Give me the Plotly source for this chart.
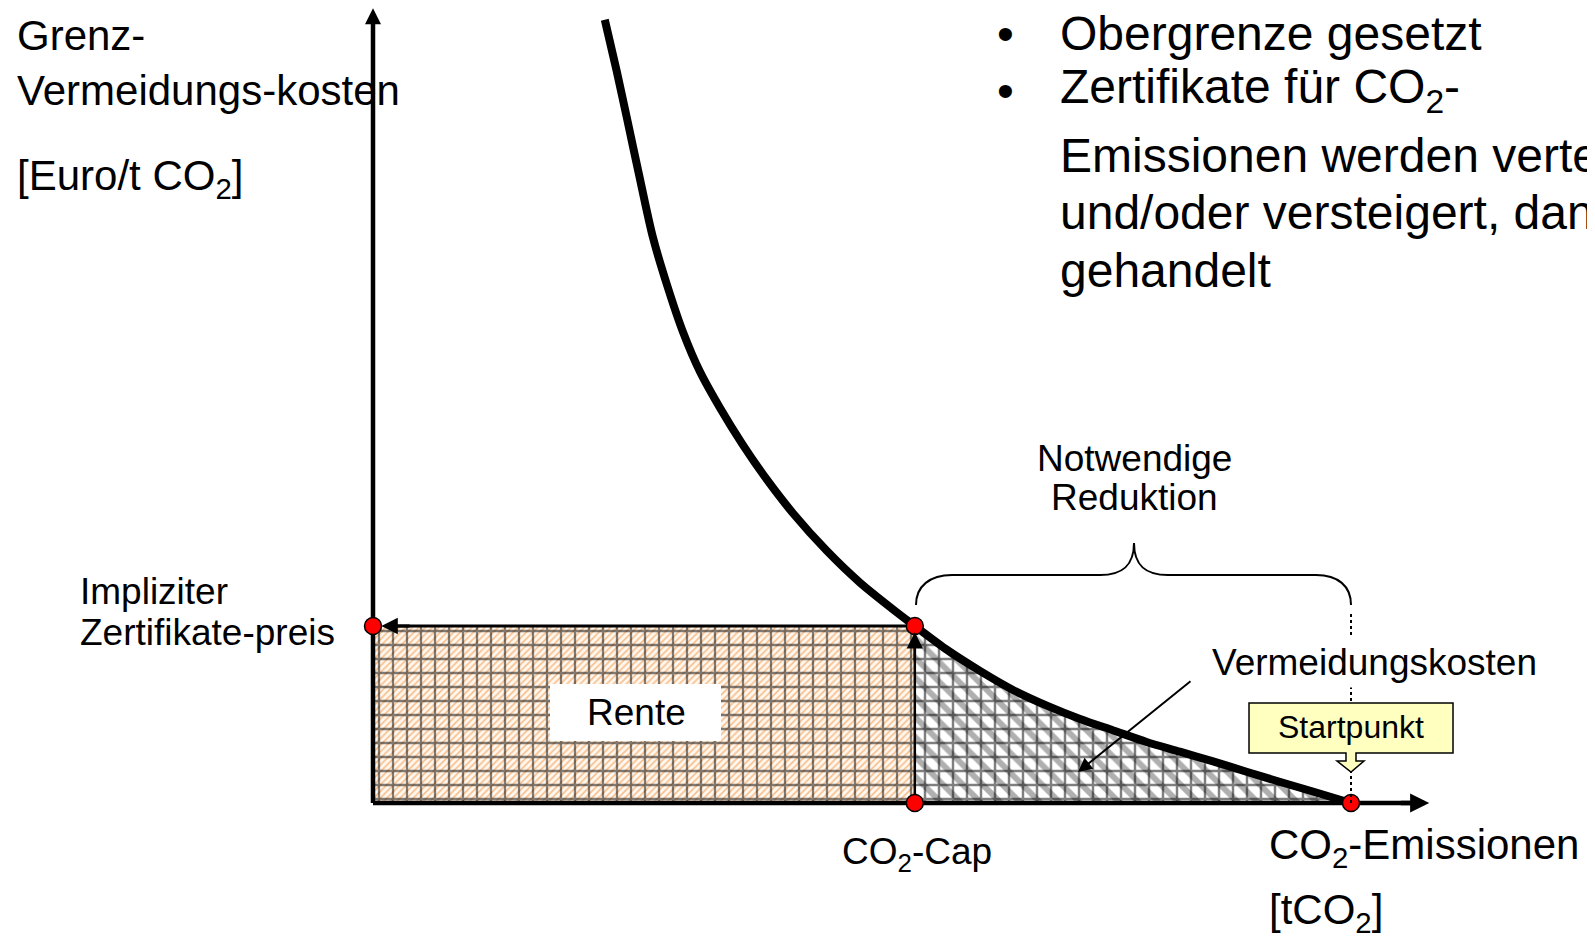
import plotly.graph_objects as go

# Grenzvermeidungskosten-Kurve (Emissionen in % des Startpunkts, Kosten in Euro/t CO2)
emissions = [23.7, 24.9, 26.0, 27.2, 28.6, 30.1, 31.7, 33.4, 35.5, 37.8, 40.3, 42.9,
             46.4, 49.8, 54.2, 55.4, 58.7, 62.1, 65.4, 68.9, 72.3, 75.7, 79.1, 82.5,
             85.9, 89.4, 92.7, 96.1, 100.0]
costs = [88.5, 82.8, 77.2, 71.0, 64.0, 58.4, 53.2, 48.8, 44.6, 40.5, 36.5, 32.8,
         28.5, 24.9, 21.0, 20.0, 17.3, 14.9, 12.8, 11.0, 9.5, 8.2, 6.9, 5.8,
         4.7, 3.5, 2.4, 1.3, 0.0]

co2_cap = 55.4
start_emissions = 100.0
certificate_price = 20.0

# axis extent (arrow tips)
x_axis_end = 108.0
y_axis_end = 89.8

# canvas and scale (page body has an 8px margin)
W, H = 1595, 936
OFF = 8
ORIGIN = (373 - OFF, 803 - OFF)
PX_X = 9.78
PX_Y = 8.85

FONT = "Liberation Sans, Arial, sans-serif"


def px(x):
    return (x - OFF) / W


def py(y):
    return 1 - (y - OFF) / H


def pt(x, y):
    return f"{px(x):.5f},{py(y):.5f}"


def line_trace(x, y, width):
    return go.Scatter(x=x, y=y, mode="lines",
                      line=dict(color="black", width=width), hoverinfo="skip")


def head(x, y, ax, ay, width, size):
    # arrowhead drawn as an annotation whose tip sits on the data point
    return dict(x=x, y=y, xref="x", yref="y", text="", showarrow=True,
                ax=ax, ay=ay, arrowhead=2, arrowsize=size, arrowwidth=width,
                arrowcolor="black", standoff=0)


fig = go.Figure()

# Rente (rectangle below the price, left of the cap)
rent_x = [0, co2_cap, co2_cap, 0, 0]
rent_y = [0, 0, certificate_price, certificate_price, 0]
fig.add_trace(go.Scatter(
    x=rent_x, y=rent_y, fill="toself", mode="lines", line=dict(width=0),
    fillcolor="white",
    fillpattern=dict(shape="/", fgcolor="#f0862a", bgcolor="#fff8f0",
                     size=4.67, solidity=0.36),
    hoverinfo="skip",
))
fig.add_trace(go.Scatter(
    x=rent_x, y=rent_y, fill="toself", mode="lines", line=dict(width=0),
    fillcolor="rgba(0,0,0,0)",
    fillpattern=dict(shape="+", fgcolor="black", bgcolor="rgba(0,0,0,0)",
                     size=14, solidity=0.3, fillmode="overlay"),
    hoverinfo="skip",
))

# Vermeidungskosten (area under the curve between cap and start)
tri_x = [e for e in emissions if e >= co2_cap] + [co2_cap]
tri_y = [c for e, c in zip(emissions, costs) if e >= co2_cap] + [0]
fig.add_trace(go.Scatter(
    x=tri_x, y=tri_y, fill="toself", mode="lines", line=dict(width=0),
    fillcolor="white",
    fillpattern=dict(shape="\\", fgcolor="#606060", bgcolor="white",
                     size=14, solidity=0.42),
    hoverinfo="skip",
))
fig.add_trace(go.Scatter(
    x=tri_x, y=tri_y, fill="toself", mode="lines", line=dict(width=0),
    fillcolor="rgba(0,0,0,0)",
    fillpattern=dict(shape="+", fgcolor="black", bgcolor="rgba(0,0,0,0)",
                     size=14, solidity=0.32, fillmode="overlay"),
    hoverinfo="skip",
))

# cost curve
fig.add_trace(go.Scatter(
    x=emissions, y=costs, mode="lines",
    line=dict(color="black", width=8, shape="spline", smoothing=0.8),
    hoverinfo="skip",
))

# axes, price and cap lines (heads added as annotations, lines stop below the tip)
fig.add_trace(line_trace([0, 0], [0, y_axis_end - 10 / PX_Y], 4.5))
fig.add_trace(line_trace([0, x_axis_end - 12 / PX_X], [0, 0], 4.5))
fig.add_trace(line_trace([co2_cap, 0.85 + 8 / PX_X], [certificate_price] * 2, 3))
fig.add_trace(line_trace([co2_cap, co2_cap], [0, 19.3 - 8 / PX_Y], 2.5))

# key points
fig.add_trace(go.Scatter(
    x=[0, co2_cap, co2_cap, start_emissions],
    y=[certificate_price, certificate_price, 0, 0],
    mode="markers",
    marker=dict(color="red", size=17, line=dict(color="black", width=1.5)),
    hoverinfo="skip",
))

shapes = [
    # brace "Notwendige Reduktion"
    dict(type="path", xref="paper", yref="paper",
         path=("M" + pt(916, 605) + " C" + pt(916, 586) + " " + pt(930, 575) + " " + pt(952, 575)
               + " L" + pt(1100, 575) + " C" + pt(1122, 575) + " " + pt(1134, 566) + " " + pt(1134, 543)
               + " C" + pt(1134, 566) + " " + pt(1146, 575) + " " + pt(1168, 575)
               + " L" + pt(1316, 575) + " C" + pt(1338, 575) + " " + pt(1351, 586) + " " + pt(1351, 605)),
         line=dict(color="black", width=2)),
    # dotted guide at the start point
    dict(type="line", xref="x", yref="y", x0=start_emissions, x1=start_emissions,
         y0=0, y1=21.6, line=dict(color="black", width=2, dash="dot"), layer="above"),
    # white box behind "Rente"
    dict(type="rect", xref="paper", yref="paper", x0=px(550), x1=px(721),
         y0=py(741), y1=py(684), fillcolor="white", line=dict(width=0), layer="above"),
    # Startpunkt callout
    dict(type="path", xref="paper", yref="paper", layer="above",
         path="M" + " L".join(pt(a, b) for a, b in [
             (1249, 703), (1453, 703), (1453, 753), (1356, 753), (1356, 761),
             (1364, 761), (1351, 772), (1337, 761), (1346, 761), (1346, 753),
             (1249, 753)]) + " Z",
         fillcolor="#ffffc0", line=dict(color="black", width=1.5)),
]


def label(text, x, y, size, anchor="left", **kw):
    return dict(text=text, x=px(x), y=py(y), xref="paper", yref="paper",
                xanchor=anchor, yanchor="middle", showarrow=False,
                font=dict(family=FONT, size=size, color="black"), **kw)


annotations = [
    label("Grenz-", 15, 35, 42),
    label("Vermeidungs-kosten", 15, 90, 42),
    label("[Euro/t CO<sub>2</sub>]", 15, 178, 42),
    label("Impliziter", 78, 591, 37),
    label("Zertifikate-preis", 78, 632, 37),
    label("Notwendige", 1134, 458, 37, "center"),
    label("Reduktion", 1134, 497, 37, "center"),
    label("Vermeidungskosten", 1207, 662, 37, bgcolor="white", borderpad=4),
    label("Rente", 636, 712, 37, "center"),
    label("Startpunkt", 1351, 727, 32, "center"),
    label("CO<sub>2</sub>-Cap", 840, 854, 37),
    label("CO<sub>2</sub>-Emissionen", 1267, 847, 42),
    label("[tCO<sub>2</sub>]", 1267, 912, 42),
    label("•", 1005, 33, 48, "center"),
    label("•", 1005, 90, 48, "center"),
    label("Obergrenze gesetzt", 1058, 33, 48),
    label("Zertifikate für CO<sub>2</sub>-", 1058, 90, 48),
    label("Emissionen werden verteilt", 1058, 155, 48),
    label("und/oder versteigert, dann", 1058, 212, 48),
    label("gehandelt", 1058, 270, 48),
    # arrowheads
    head(0, y_axis_end, 0, 30, 4, 0.8),
    head(x_axis_end, 0, -30, 0, 4.5, 0.85),
    head(0.85, certificate_price, 30, 0, 3, 1.1),
    head(co2_cap, 19.3, 0, 30, 2.5, 1.3),
    # arrow pointing into the abatement cost area
    dict(x=px(1078), y=py(772), xref="paper", yref="paper", text="",
         showarrow=True, ax=114, ay=-92, arrowhead=2, arrowsize=1.4,
         arrowwidth=2, arrowcolor="black", standoff=0),
]

fig.update_layout(
    width=W,
    height=H,
    margin=dict(l=0, r=0, t=0, b=0),
    paper_bgcolor="white",
    plot_bgcolor="white",
    showlegend=False,
    xaxis=dict(visible=False, range=[-ORIGIN[0] / PX_X, (W - ORIGIN[0]) / PX_X]),
    yaxis=dict(visible=False, range=[-(H - ORIGIN[1]) / PX_Y, ORIGIN[1] / PX_Y]),
    shapes=shapes,
    annotations=annotations,
)

fig.write_html("out.html")
